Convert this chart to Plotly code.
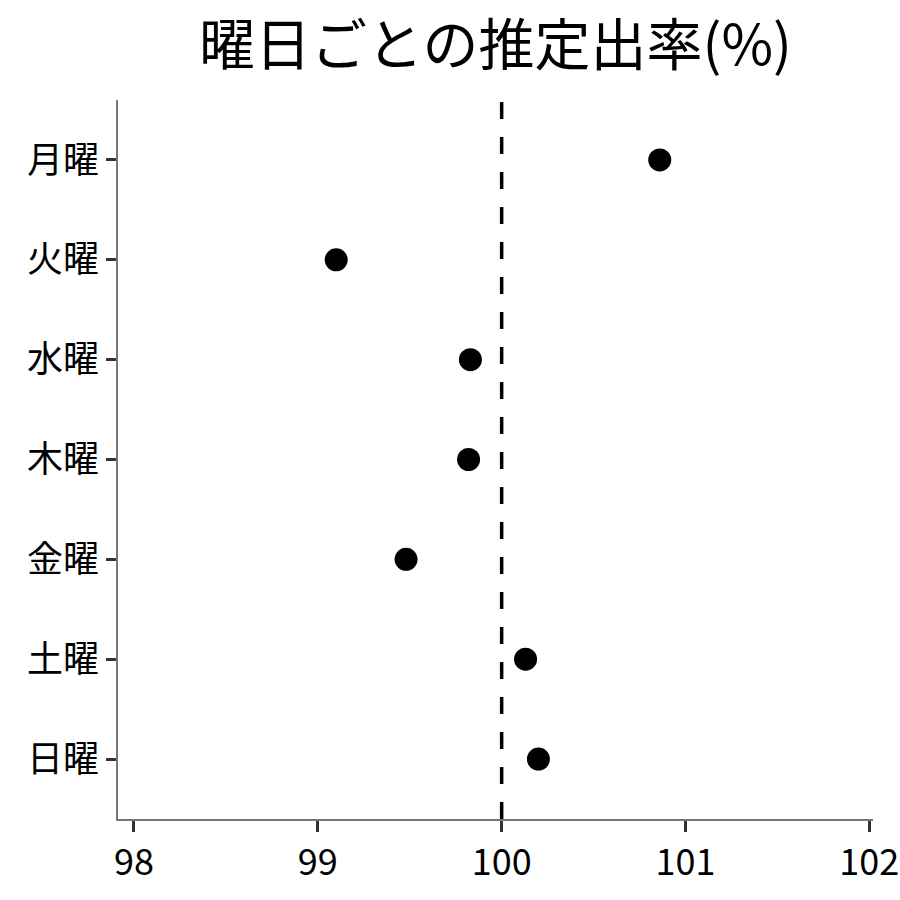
import plotly.graph_objects as go

DAYS = ["月曜", "火曜", "水曜", "木曜", "金曜", "土曜", "日曜"]
RATES = [100.86, 99.10, 99.83, 99.82, 99.48, 100.13, 100.20]
X_TICKS = [98, 99, 100, 101, 102]
REF_VALUE = 100

FONT = "Noto Sans CJK JP"

fig = go.Figure()

fig.add_trace(go.Scatter(
    x=RATES,
    y=DAYS,
    mode="markers",
    marker=dict(size=23, color="black"),
    showlegend=False,
))

# reference line at 100%
fig.add_shape(
    type="line",
    x0=REF_VALUE, x1=REF_VALUE,
    y0=0, y1=1, yref="paper",
    line=dict(color="black", width=3.5, dash="17px,18px"),
)

fig.update_layout(
    width=900, height=896,
    title=dict(
        text="曜日ごとの推定出率(%)",
        x=0.5, xref="paper", xanchor="center",
        y=1 - 45 / 896, yanchor="middle",
        font=dict(family=FONT, size=56, color="black"),
    ),
    font=dict(family=FONT, color="black"),
    paper_bgcolor="white",
    plot_bgcolor="white",
    margin=dict(l=118, r=27, t=100, b=77),
    xaxis=dict(
        range=[97.913, 102.02],
        tickvals=X_TICKS,
        automargin=False,
        ticks="outside", ticklen=11, tickwidth=3, tickcolor="#333333",
        showline=True, linecolor="#777777", linewidth=1.5,
        showgrid=False, zeroline=False,
        tickfont=dict(family=FONT, size=36, color="black"),
    ),
    yaxis=dict(
        categoryorder="array", categoryarray=DAYS,
        range=[6.6, -0.6],
        automargin=False,
        ticks="outside", ticklen=10, tickwidth=3, tickcolor="#333333",
        showline=True, linecolor="#777777", linewidth=1.5,
        showgrid=False, zeroline=False,
        tickfont=dict(family=FONT, size=36, color="black"),
    ),
)

# drop the default body margin so the 900px figure fits the window
fig.write_html(
    "out.html",
    config={"displayModeBar": False},
    post_script="document.body.style.margin = '0';",
)
